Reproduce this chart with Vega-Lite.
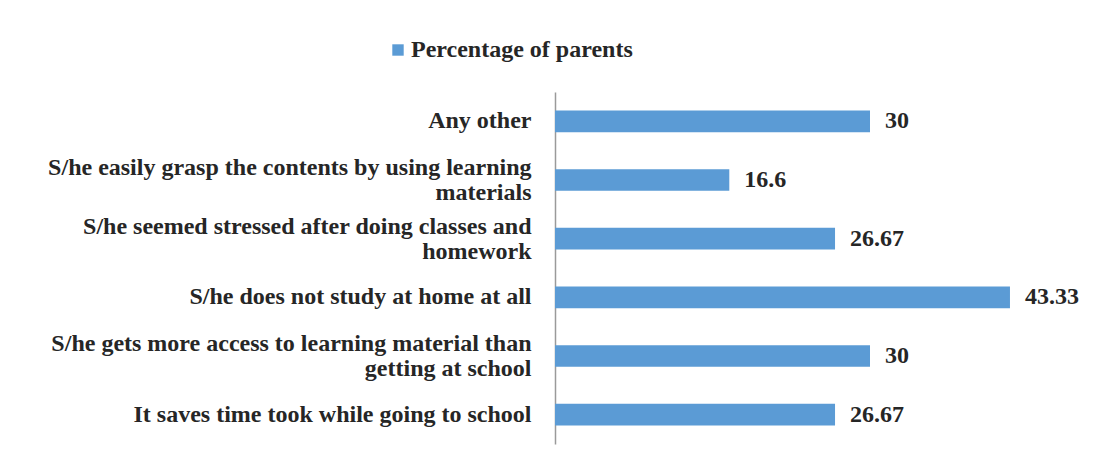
{
  "$schema": "https://vega.github.io/schema/vega-lite/v6.json",
  "autosize": {"type": "none"},
  "width": 525,
  "height": 352,
  "padding": {"left": 555, "top": 92, "right": 24, "bottom": 25},
  "background": "white",
  "data": {
    "values": [
      {"category": "Any other", "value": 30, "series": "Percentage of parents"},
      {"category": "S/he easily grasp the contents by using learning|materials", "value": 16.6, "series": "Percentage of parents"},
      {"category": "S/he seemed stressed after doing classes and|homework", "value": 26.67, "series": "Percentage of parents"},
      {"category": "S/he does not study at home at all", "value": 43.33, "series": "Percentage of parents"},
      {"category": "S/he gets more access to learning material than|getting at school", "value": 30, "series": "Percentage of parents"},
      {"category": "It saves time took while going to school", "value": 26.67, "series": "Percentage of parents"}
    ]
  },
  "encoding": {
    "y": {
      "field": "category",
      "type": "nominal",
      "sort": null,
      "scale": {"paddingInner": 0.63, "paddingOuter": 0.315},
      "axis": {
        "title": null,
        "ticks": false,
        "domain": true,
        "domainColor": "#9a9a9a",
        "domainWidth": 1.5,
        "labelExpr": "split(datum.label, '|')",
        "labelFont": "Liberation Serif",
        "labelFontWeight": "bold",
        "labelFontSize": 24,
        "labelColor": "#262626",
        "labelPadding": 24,
        "labelLimit": 600,
        "labelLineHeight": 25,
        "labelAlign": "right",
        "labelBaseline": "middle",
        "labelOffset": {"condition": {"test": "indexof(datum.value, '|') >= 0", "value": -12}, "value": 0}
      }
    },
    "x": {
      "field": "value",
      "type": "quantitative",
      "scale": {"domain": [0, 50], "nice": false},
      "axis": null
    }
  },
  "layer": [
    {
      "mark": {"type": "bar"},
      "encoding": {
        "color": {
          "field": "series",
          "type": "nominal",
          "scale": {"range": ["#5b9bd5"]},
          "legend": {
            "title": null,
            "orient": "none",
            "legendX": -169,
            "legendY": -54,
            "symbolType": "square",
            "symbolSize": 130,
            "symbolStrokeWidth": 0,
            "labelFont": "Liberation Serif",
            "labelFontWeight": "bold",
            "labelFontSize": 24,
            "labelColor": "#262626",
            "labelOffset": 1,
            "labelLimit": 400
          }
        }
      }
    },
    {
      "mark": {
        "type": "text",
        "align": "left",
        "baseline": "middle",
        "dx": 15,
        "font": "Liberation Serif",
        "fontWeight": "bold",
        "fontSize": 24,
        "color": "#262626"
      },
      "encoding": {
        "text": {"field": "value", "type": "quantitative"}
      }
    }
  ],
  "config": {
    "view": {"stroke": null}
  }
}
